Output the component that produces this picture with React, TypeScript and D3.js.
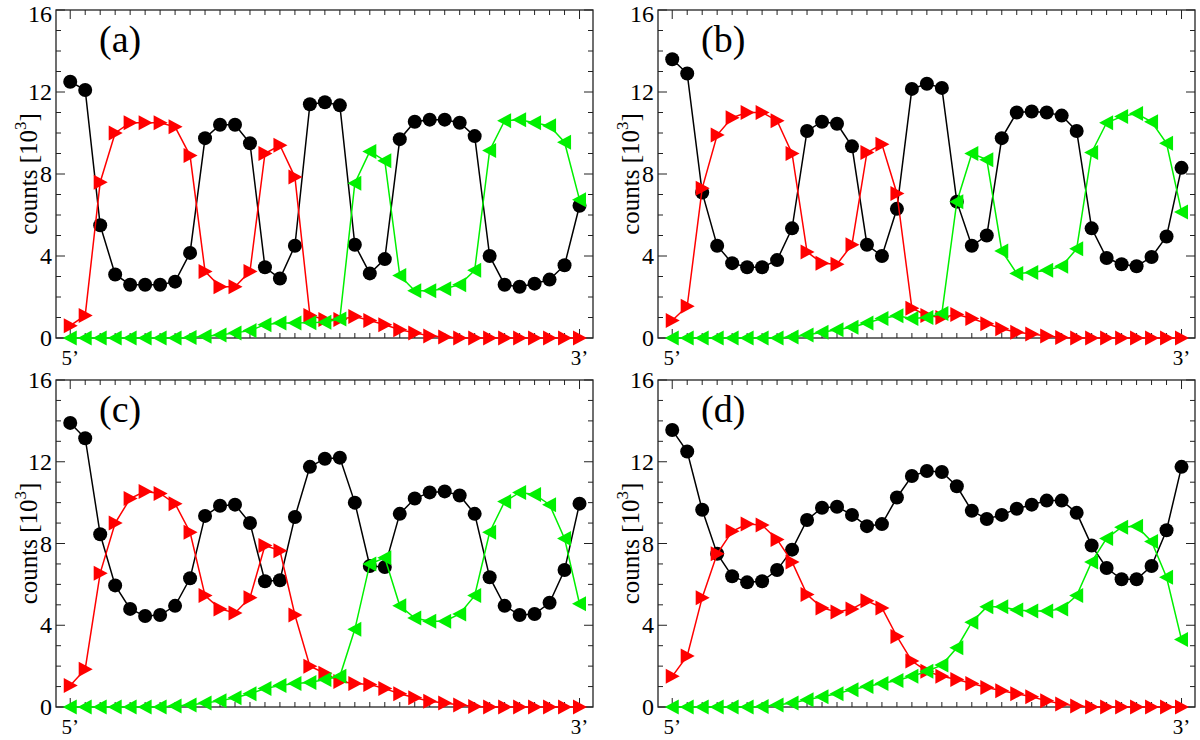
import React from "react";
import * as d3 from "d3";

// ---- Data (counts in 10^3) for each panel, 35 positions from 5' to 3' ----
const positions = d3.range(35);
const panelLabels = ["(a)", "(b)", "(c)", "(d)"];
const yTickLabels = [0, 4, 8, 12, 16];
const endLabels = ["5\u2019", "3\u2019"];

const blackA = [12.5, 12.1, 5.5, 3.1, 2.6, 2.6, 2.6, 2.75, 4.15, 9.75, 10.4, 10.4, 9.5, 3.45, 2.9, 4.5, 11.4, 11.5, 11.35, 4.55, 3.15, 3.85, 9.7, 10.55, 10.65, 10.65, 10.5, 9.85, 4.0, 2.6, 2.5, 2.65, 2.85, 3.55, 6.45];
const redA = [0.6, 1.1, 7.6, 10.0, 10.5, 10.5, 10.5, 10.3, 8.9, 3.25, 2.5, 2.5, 3.25, 9.0, 9.4, 7.85, 1.1, 0.9, 0.9, 1.05, 0.85, 0.65, 0.4, 0.25, 0.1, 0.05, 0, 0, 0, 0, 0, 0, 0, 0, 0];
const greenA = [0, 0, 0, 0, 0, 0, 0, 0, 0.03, 0.08, 0.15, 0.25, 0.36, 0.65, 0.73, 0.73, 0.75, 0.77, 0.93, 7.55, 9.1, 8.65, 3.05, 2.3, 2.3, 2.4, 2.6, 3.3, 9.15, 10.6, 10.65, 10.5, 10.35, 9.55, 6.75];

const blackB = [13.6, 12.9, 7.1, 4.5, 3.65, 3.45, 3.45, 3.8, 5.35, 10.1, 10.55, 10.45, 9.35, 4.55, 4.0, 6.3, 12.15, 12.4, 12.2, 6.65, 4.5, 5.0, 9.75, 11.0, 11.05, 11.0, 10.85, 10.1, 5.35, 3.9, 3.6, 3.5, 3.95, 4.95, 8.3];
const redB = [0.85, 1.55, 7.3, 9.9, 10.75, 11.0, 11.0, 10.6, 9.0, 4.2, 3.65, 3.6, 4.55, 9.05, 9.45, 7.05, 1.45, 1.1, 1.0, 1.15, 0.95, 0.7, 0.45, 0.28, 0.2, 0.1, 0.03, 0, 0, 0, 0, 0, 0, 0, 0];
const greenB = [0, 0, 0, 0, 0, 0, 0, 0, 0.05, 0.15, 0.28, 0.4, 0.52, 0.73, 0.95, 1.08, 0.95, 1.0, 1.2, 6.65, 9.0, 8.7, 4.25, 3.15, 3.2, 3.3, 3.5, 4.35, 9.05, 10.5, 10.8, 10.95, 10.55, 9.5, 6.15];

const blackC = [13.9, 13.15, 8.45, 5.95, 4.8, 4.45, 4.5, 4.95, 6.3, 9.35, 9.85, 9.9, 9.0, 6.15, 6.2, 9.3, 11.75, 12.15, 12.2, 10.0, 6.9, 6.85, 9.45, 10.2, 10.5, 10.55, 10.35, 9.45, 6.35, 4.95, 4.5, 4.55, 5.1, 6.7, 9.95];
const redC = [1.05, 1.85, 6.55, 9.0, 10.2, 10.55, 10.45, 9.95, 8.55, 5.45, 4.8, 4.6, 5.35, 7.9, 7.65, 4.5, 2.0, 1.65, 1.25, 1.15, 1.1, 0.9, 0.65, 0.45, 0.28, 0.2, 0.1, 0.03, 0, 0, 0, 0, 0, 0, 0];
const greenC = [0, 0, 0, 0, 0, 0, 0, 0.05, 0.1, 0.2, 0.3, 0.45, 0.65, 0.9, 1.05, 1.15, 1.2, 1.35, 1.5, 3.8, 7.0, 7.3, 4.95, 4.35, 4.2, 4.2, 4.55, 5.45, 8.55, 10.05, 10.5, 10.4, 9.9, 8.25, 5.05];

const blackD = [13.55, 12.5, 9.65, 7.5, 6.4, 6.1, 6.15, 6.7, 7.7, 9.15, 9.75, 9.8, 9.4, 8.85, 8.95, 10.25, 11.3, 11.55, 11.5, 10.8, 9.6, 9.2, 9.4, 9.7, 9.9, 10.1, 10.1, 9.5, 7.9, 6.8, 6.25, 6.25, 6.9, 8.65, 11.75];
const redD = [1.5, 2.5, 5.35, 7.5, 8.6, 8.95, 8.9, 8.2, 7.1, 5.5, 4.85, 4.65, 4.8, 5.2, 4.85, 3.45, 2.25, 1.75, 1.5, 1.35, 1.15, 0.95, 0.8, 0.65, 0.5, 0.3, 0.15, 0.05, 0, 0, 0, 0, 0, 0, 0];
const greenD = [0, 0, 0, 0, 0, 0, 0.02, 0.1, 0.2, 0.35, 0.5, 0.65, 0.85, 1.0, 1.15, 1.3, 1.5, 1.75, 2.05, 2.9, 4.15, 4.9, 4.9, 4.75, 4.7, 4.7, 4.8, 5.45, 7.1, 8.25, 8.8, 8.85, 8.1, 6.35, 3.3];

const panelsData = [
  { black: blackA, red: redA, green: greenA },
  { black: blackB, red: redB, green: greenB },
  { black: blackC, red: redC, green: greenC },
  { black: blackD, red: redD, green: greenD },
];

// ---- Layout ----
const W = 1200;
const H = 740;
const boxes = [
  { L: 56, R: 593, T: 10, B: 338 },
  { L: 658, R: 1195, T: 10, B: 338 },
  { L: 56, R: 593, T: 380, B: 707 },
  { L: 658, R: 1195, T: 380, B: 707 },
];
const FONT = "'Liberation Serif', 'Times New Roman', serif";
const RED = "#ff0000";
const GREEN = "#00f000";
const FRAME = "#222";

function Panel({ idx }: { idx: number }) {
  const b = boxes[idx];
  const data = panelsData[idx];
  const x = d3.scaleLinear().domain([-0.95, 34.9]).range([b.L, b.R]);
  const y = d3.scaleLinear().domain([0, 16]).range([b.B, b.T]);
  const line = (vals: number[]) =>
    d3.line<number>().x((_, i) => x(positions[i])).y((v) => y(v))(vals) || "";

  const minorY = d3.range(0, 17);
  const triRight = "M-6.5,-7.5 L-6.5,7.5 L7.5,0 Z";
  const triLeft = "M6.5,-7.5 L6.5,7.5 L-7.5,0 Z";
  const cy = (b.T + b.B) / 2;
  const ylx = b.L - 19;

  return (
    <g>
      {/* frame */}
      <rect x={b.L} y={b.T} width={b.R - b.L} height={b.B - b.T} fill="none" stroke={FRAME} strokeWidth={1.3} />
      {/* y ticks left & right */}
      {minorY.map((v) => {
        const major = v % 4 === 0;
        const len = major ? 9 : 5;
        return (
          <g key={"yt" + v}>
            <line x1={b.L} x2={b.L + len} y1={y(v)} y2={y(v)} stroke={FRAME} strokeWidth={1} />
            <line x1={b.R} x2={b.R - len} y1={y(v)} y2={y(v)} stroke={FRAME} strokeWidth={1} />
          </g>
        );
      })}
      {/* x ticks top & bottom */}
      {positions.map((p) => {
        const major = p === 0 || p === 34;
        const len = major ? 9 : 5;
        return (
          <g key={"xt" + p}>
            <line x1={x(p)} x2={x(p)} y1={b.B} y2={b.B - len} stroke={FRAME} strokeWidth={1} />
            <line x1={x(p)} x2={x(p)} y1={b.T} y2={b.T + len} stroke={FRAME} strokeWidth={1} />
          </g>
        );
      })}
      {/* y tick labels */}
      {yTickLabels.map((v) => (
        <text key={"yl" + v} x={b.L - 4} y={Math.max(y(v) + 8, 22)} textAnchor="end" fontFamily={FONT} fontSize={24} fill="#000">
          {v}
        </text>
      ))}
      {/* x end labels */}
      <text x={x(0)} y={b.B + 27} textAnchor="middle" fontFamily={FONT} fontSize={21} fill="#000">{endLabels[0]}</text>
      <text x={x(34)} y={b.B + 27} textAnchor="middle" fontFamily={FONT} fontSize={21} fill="#000">{endLabels[1]}</text>
      {/* y label */}
      <text transform={`translate(${ylx},${cy}) rotate(-90)`} textAnchor="middle" fontFamily={FONT} fontSize={25} fill="#000">
        counts [10<tspan dy="-11" fontSize={17}>3</tspan><tspan dy="11">]</tspan>
      </text>
      {/* panel label */}
      <text x={b.L + 43} y={b.T + 42} fontFamily={FONT} fontSize={38} fill="#000">{panelLabels[idx]}</text>

      {/* series: black */}
      <path d={line(data.black)} fill="none" stroke="#000" strokeWidth={1.5} />
      {data.black.map((v, i) => (
        <circle key={"b" + i} cx={x(positions[i])} cy={y(v)} r={7} fill="#000" />
      ))}
      {/* red */}
      <path d={line(data.red)} fill="none" stroke={RED} strokeWidth={1.5} />
      {data.red.map((v, i) => (
        <path key={"r" + i} d={triRight} transform={`translate(${x(positions[i])},${y(v)})`} fill={RED} />
      ))}
      {/* green */}
      <path d={line(data.green)} fill="none" stroke={GREEN} strokeWidth={1.5} />
      {data.green.map((v, i) => (
        <path key={"g" + i} d={triLeft} transform={`translate(${x(positions[i])},${y(v)})`} fill={GREEN} />
      ))}
    </g>
  );
}

export default function App() {
  return (
    <svg width={W} height={H} style={{ position: "absolute", left: 0, top: 0, background: "#fff" }}>
      <rect x={0} y={0} width={W} height={H} fill="#fff" />
      {[0, 1, 2, 3].map((i) => (
        <Panel key={i} idx={i} />
      ))}
    </svg>
  );
}
